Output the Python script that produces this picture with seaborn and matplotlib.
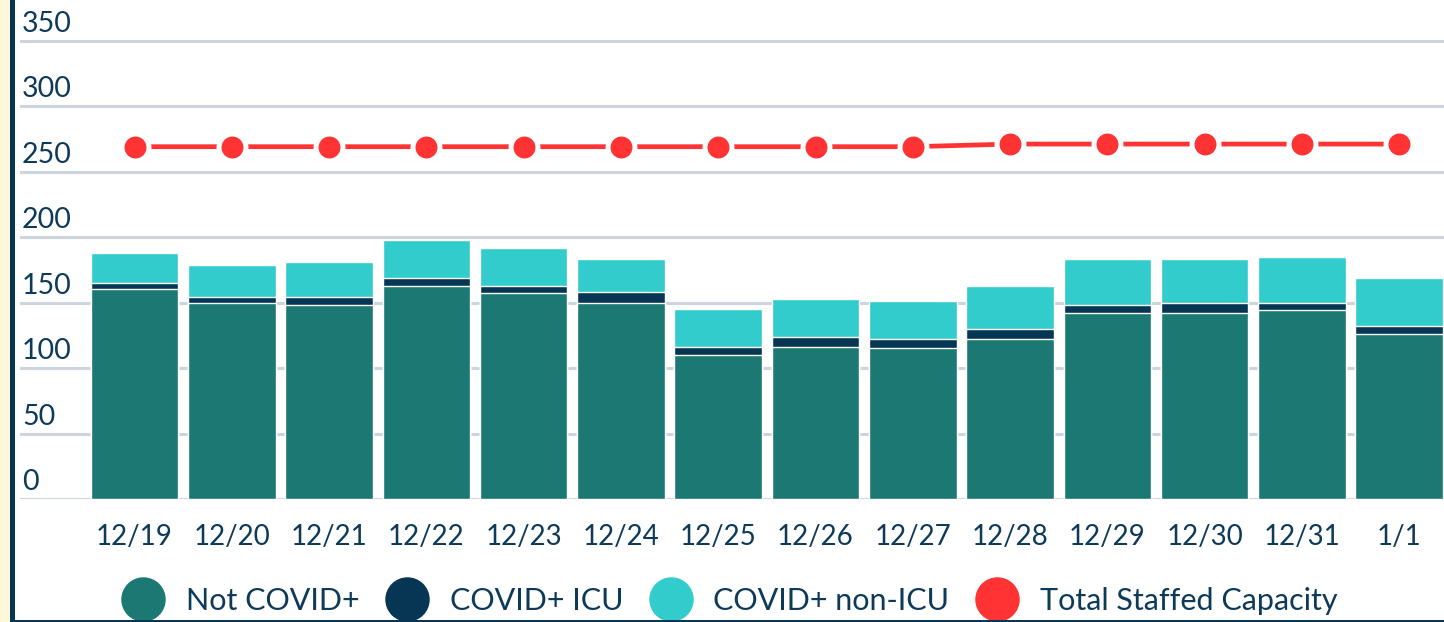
import matplotlib
matplotlib.use("Agg")
import matplotlib.pyplot as plt
from matplotlib.lines import Line2D
from matplotlib.patches import Rectangle
import seaborn as sns
import pandas as pd
import numpy as np

dates = ["12/19", "12/20", "12/21", "12/22", "12/23", "12/24", "12/25",
         "12/26", "12/27", "12/28", "12/29", "12/30", "12/31", "1/1"]
not_covid = [160, 150, 148, 163, 157, 150, 110, 116, 115, 122, 142, 142, 144, 126]
covid_icu = [5, 4, 6, 6, 6, 8, 6, 8, 7, 8, 6, 8, 6, 6]
covid_non_icu = [23, 25, 27, 29, 29, 25, 29, 29, 29, 33, 35, 33, 35, 37]
capacity = [269, 269, 269, 269, 269, 269, 269, 269, 269, 271, 271, 271, 271, 271]
yticks = [0, 50, 100, 150, 200, 250, 300, 350]

C_NOT = "#1c7873"
C_ICU = "#073654"
C_NON = "#33cccc"
C_RED = "#ff3333"
C_TXT = "#0e3a5a"
C_GRID = "#ccd5dd"

df = pd.DataFrame({
    "date": dates,
    "not": not_covid,
    "icu": covid_icu,
    "non": covid_non_icu,
    "cap": capacity,
})
df["lvl2"] = df["not"] + df["icu"]
df["lvl3"] = df["lvl2"] + df["non"]

sns.set_theme(style="white")
plt.rcParams["font.family"] = ["Lato", "DejaVu Sans"]

fig = plt.figure(figsize=(14.44, 6.22), dpi=100)
fig.patch.set_facecolor("white")
ax = fig.add_axes([20 / 1444, (622 - 499) / 622, 1 - 20 / 1444, 499 / 622])

for t in yticks:
    ax.axhline(t, color=C_GRID, lw=2.2, zorder=0)

sns.barplot(data=df, x="date", y="lvl3", color=C_NON, width=0.9, ax=ax,
            saturation=1, zorder=2)
sns.barplot(data=df, x="date", y="lvl2", color=C_ICU, width=0.9, ax=ax,
            saturation=1, zorder=3)
sns.barplot(data=df, x="date", y="not", color=C_NOT, width=0.9, ax=ax,
            saturation=1, zorder=4)

sns.pointplot(data=df, x="date", y="cap", color=C_RED, ax=ax,
              markers="o", markersize=19.4, linewidth=3.4,
              markeredgecolor="white", markeredgewidth=3.6, zorder=5)
ax.set_xlim(-1.177, 13.46)
ax.set_ylim(0, 381)

for s in ax.spines.values():
    s.set_visible(False)
ax.set_xlabel("")
ax.set_ylabel("")
ax.set_yticks(yticks)
ax.set_yticklabels([])
ax.tick_params(axis="y", length=0)
ax.tick_params(axis="x", length=0, pad=18, labelsize=20, labelcolor=C_TXT)
for t in yticks:
    ax.text(2 / 1424, t + 3, str(t), transform=ax.get_yaxis_transform(),
            ha="left", va="bottom", fontsize=20.5, color=C_TXT)

handles = [
    Line2D([], [], ls="", marker="o", markersize=31, color=C_NOT, label="Not COVID+"),
    Line2D([], [], ls="", marker="o", markersize=31, color=C_ICU, label="COVID+ ICU"),
    Line2D([], [], ls="", marker="o", markersize=31, color=C_NON, label="COVID+ non-ICU"),
    Line2D([], [], ls="", marker="o", markersize=31, color=C_RED, label="Total Staffed Capacity"),
]
leg = fig.legend(handles=handles, loc="center", bbox_to_anchor=(0.5 + 9 / 1444, 21 / 622),
                 ncol=4, frameon=False, fontsize=22, handletextpad=0.8,
                 columnspacing=0.95, handlelength=1.2)
for txt in leg.get_texts():
    txt.set_color(C_TXT)

# left border strip and bottom line
fig.patches.append(Rectangle((0, 0), 10 / 1444, 1, transform=fig.transFigure,
                             facecolor="#fdf9d8", edgecolor="none", zorder=10))
fig.patches.append(Rectangle((10 / 1444, 0), 5 / 1444, 1, transform=fig.transFigure,
                             facecolor=C_ICU, edgecolor="none", zorder=10))
fig.patches.append(Rectangle((10 / 1444, 0), 1, 2 / 622, transform=fig.transFigure,
                             facecolor=C_ICU, edgecolor="none", zorder=10))

fig.savefig("out.png", dpi=100)
